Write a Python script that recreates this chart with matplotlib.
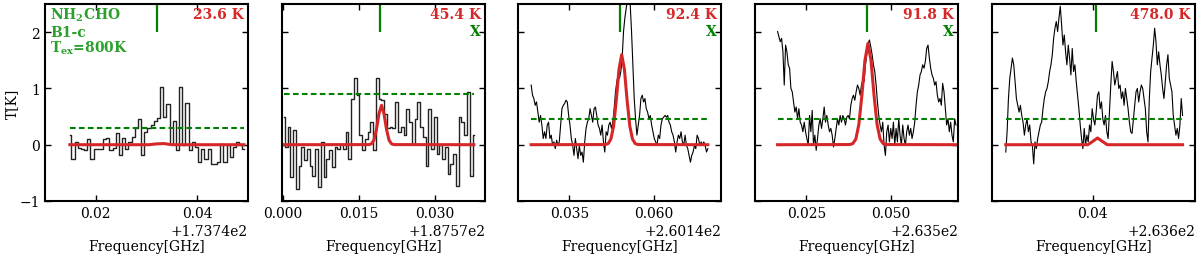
import numpy as np
import matplotlib
matplotlib.use("Agg")
import matplotlib.pyplot as plt

# NH2CHO lines towards B1-c, T_ex = 800 K
# frequency offsets [GHz] shown by the tick formatter
offsets = [173.74, 187.57, 260.14, 263.5, 263.6]
# channel range of each observed spectrum (relative to offset, GHz)
f_start = [0.0149, 0.0001, 0.0237, 0.0165, 0.0141]
f_end = [0.0492, 0.0378, 0.0760, 0.0694, 0.0667]
xlims = [(0.0100, 0.0500), (-0.0002, 0.0400), (0.0198, 0.0799), (0.0098, 0.0700), (0.0100, 0.0704)]
xticks = [[0.02, 0.04], [0.0, 0.015, 0.03], [0.035, 0.06], [0.025, 0.05], [0.04]]

eup = ["23.6 K", "45.4 K", "92.4 K", "91.8 K", "478.0 K"]
blended = [False, True, True, True, False]
line_freq = [0.0320, 0.0192, 0.0500, 0.0430, 0.0410]
rms3 = [0.30, 0.90, 0.45, 0.45, 0.45]

# observed spectra [K]
spec1 = [0.17, -0.25, 0.05, -0.05, -0.08, -0.10, 0.10, -0.25, -0.07, -0.08,
         -0.07, 0.10, 0.12, -0.10, -0.05, 0.20, -0.19, 0.12, -0.07, 0.05,
         0.14, 0.30, 0.46, -0.19, 0.23, 0.29, 0.35, 0.43, 0.48, 1.03,
         0.50, 0.73, 0.02, 0.43, -0.10, 1.03, -0.01, 0.75, -0.10, 0.05,
         -0.04, -0.31, -0.07, -0.25, -0.07, -0.34, -0.34, -0.31, 0.02, -0.31,
         -0.01, -0.22, -0.04, 0.05, -0.01, -0.08]
spec2 = [0.49, -0.04, 0.32, -0.58, 0.26, -0.79, -0.37, -0.04, -0.28, -0.07,
         -0.37, -0.55, -0.07, -0.76, 0.05, -0.58, -0.25, -0.10, -0.40, -0.04,
         -0.07, 0.02, -0.07, 0.23, -0.25, 0.82, 1.19, 0.88, 0.17, -0.10,
         0.11, 0.23, 0.40, -0.10, 1.19, 0.82, 0.79, 0.55, 0.29, 0.32,
         0.29, 0.76, 0.23, 0.32, 0.17, 0.64, 0.40, 0.02, 0.46, 0.76,
         0.32, 0.14, -0.37, 0.64, -0.07, 0.49, -0.16, -0.01, -0.25, -0.04,
         -0.52, -0.34, -0.16, -0.73, 0.49, 0.40, 0.17, 0.93, -0.55, 0.17]
spec3 = [1.06, 0.88, 0.82, 0.70, 0.76, 0.58, 0.40, 0.52, 0.35, 0.11,
         0.23, 0.11, 0.35, 0.40, 0.11, 0.17, -0.01, 0.05, -0.07, 0.08,
         -0.01, 0.05, 0.35, 0.64, 0.70, 0.73, 0.79, 0.76, 0.52, 0.35,
         0.11, -0.01, -0.19, 0.11, -0.07, -0.25, -0.01, -0.19, -0.13, -0.31,
         0.05, 0.29, 0.40, 0.46, 0.64, 0.52, 0.40, 0.64, 0.67, 0.52,
         0.35, 0.29, 0.17, 0.35, 0.05, -0.13, 0.23, 0.17, 0.35, 0.40,
         0.29, 0.40, 0.64, 0.94, 1.12, 1.24, 1.18, 1.30, 1.54, 2.01,
         2.25, 2.43, 2.60, 2.65, 2.49, 2.01, 1.42, 0.82, 0.46, 0.17,
         0.35, 0.52, 0.82, 0.88, 0.76, 0.82, 0.64, 0.58, 0.46, 0.52,
         0.35, 0.23, 0.11, 0.05, -0.01, 0.17, 0.11, 0.35, 0.46, 0.49,
         0.52, 0.49, 0.52, 0.40, 0.35, 0.23, 0.17, 0.05, -0.13, 0.05,
         0.17, 0.11, 0.23, 0.05, -0.01, 0.17, -0.01, -0.07, -0.19, -0.31,
         -0.19, -0.13, -0.01, -0.07, 0.17, 0.11, -0.01, 0.05, -0.01, 0.05,
         -0.01, -0.13, -0.07]
spec4 = [2.01, 1.92, 1.83, 1.89, 1.65, 1.06, 1.77, 1.65, 1.42, 1.36,
         1.00, 0.94, 0.76, 0.58, 0.67, 0.46, 0.64, 0.40, 0.35, 0.23,
         0.40, 0.23, 0.11, -0.01, 0.52, 0.23, 0.61, -0.01, 0.17, -0.10,
         0.11, 0.35, 0.46, 0.29, 0.46, 0.67, 0.40, 0.52, 0.35, 0.23,
         0.29, 0.17, -0.04, 0.11, 0.29, 0.46, 0.35, 0.52, 0.40, 0.52,
         0.46, 0.35, 0.49, 0.52, 0.46, 0.70, 0.82, 0.88, 0.79, 0.94,
         1.06, 1.00, 0.88, 1.06, 1.15, 1.12, 1.42, 1.60, 1.80, 1.86,
         1.74, 1.60, 1.42, 1.30, 1.06, 0.76, 0.52, 0.35, 0.23, 0.40,
         -0.01, -0.19, 0.23, 0.35, 0.05, 0.29, 0.11, 0.40, -0.01, 0.29,
         0.05, 0.46, 0.17, -0.01, 0.35, 0.11, -0.01, 0.23, 0.35, 0.17,
         0.29, 0.11, 0.23, 0.40, 0.70, 0.94, 1.06, 1.24, 1.30, 1.42,
         1.36, 1.48, 1.71, 1.77, 1.54, 1.36, 1.24, 1.18, 1.06, 1.12,
         0.88, 0.76, 0.82, 0.70, 1.09, 0.94, 0.64, 0.35, 0.46, 0.23,
         0.40, 0.17, 0.05, 0.46, 0.35]
spec5 = [-0.13, 0.23, 0.82, 1.18, 1.36, 1.54, 1.42, 1.12, 0.82, 0.70,
         0.58, 0.70, 0.52, 0.40, 0.17, 0.35, 0.46, 0.23, 0.35, 0.05,
         -0.01, -0.34, 0.05, -0.07, 0.11, 0.23, 0.35, 0.40, 0.64, 0.82,
         0.94, 1.00, 1.12, 1.30, 1.42, 1.60, 1.89, 2.07, 2.19, 2.01,
         2.25, 2.46, 2.13, 1.77, 1.95, 1.65, 1.42, 1.77, 1.54, 1.24,
         1.71, 1.30, 1.42, 1.12, 0.88, 0.64, 0.35, 0.11, -0.07, 0.29,
         -0.01, 0.17, 0.05, 0.35, 0.23, 0.64, 0.46, 0.35, 0.58, 0.88,
         0.94, 0.64, 0.76, 0.46, 0.35, 0.52, 0.23, 0.11, 0.58, 1.06,
         1.48, 1.30, 1.06, 1.18, 1.30, 1.00, 1.06, 0.82, 0.94, 0.70,
         1.00, 0.82, 0.64, 0.40, 0.23, 0.20, 0.46, 0.70, 0.94, 1.00,
         0.76, 0.94, 1.06, 1.00, 0.82, 0.64, 0.23, 0.05, 0.82, 1.30,
         1.54, 1.77, 2.07, 1.83, 1.42, 1.65, 1.42, 1.24, 1.00, 0.82,
         1.12, 1.42, 1.60, 1.18, 1.06, 0.94, 0.52, 0.35, 0.17, 0.29,
         0.11, 0.35, 0.82, 0.52]
spectra = [spec1, spec2, spec3, spec4, spec5]
stepped = [True, True, False, False, False]

# LTE model (red): frequencies and temperatures
mod1_f = [0.0149, 0.0305, 0.0320, 0.0335, 0.0350, 0.0492]
mod1_t = [0.0, 0.0, 0.015, 0.02, 0.0, 0.0]
mod2_f = [0.0001, 0.0170, 0.0175, 0.0180, 0.0185, 0.0190, 0.0195, 0.0200,
          0.0205, 0.0210, 0.0215, 0.0220, 0.0378]
mod2_t = [0.0, 0.002, 0.015, 0.08, 0.27, 0.55, 0.70, 0.55, 0.27, 0.08, 0.015, 0.002, 0.0]
mod3_f = [0.0237, 0.0457, 0.0465, 0.0473, 0.0481, 0.0489, 0.0497, 0.0505,
          0.0513, 0.0521, 0.0529, 0.0537, 0.0545, 0.0553, 0.0760]
mod3_t = [0.0, 0.003, 0.02, 0.10, 0.33, 0.79, 1.34, 1.60, 1.34, 0.79, 0.33, 0.10, 0.02, 0.003, 0.0]
mod4_f = [0.0165, 0.0379, 0.0388, 0.0397, 0.0406, 0.0415, 0.0424, 0.0433,
          0.0442, 0.0451, 0.0460, 0.0469, 0.0478, 0.0487, 0.0694]
mod4_t = [0.0, 0.003, 0.02, 0.10, 0.36, 0.88, 1.50, 1.80, 1.50, 0.88, 0.36, 0.10, 0.02, 0.003, 0.0]
mod5_f = [0.0141, 0.0385, 0.0400, 0.0414, 0.0428, 0.0443, 0.0667]
mod5_t = [0.0, 0.0, 0.06, 0.12, 0.06, 0.0, 0.0]
models = [(mod1_f, mod1_t), (mod2_f, mod2_t), (mod3_f, mod3_t), (mod4_f, mod4_t), (mod5_f, mod5_t)]

GREEN = "#008000"
LGREEN = "#2ca02c"
RED = "#d62728"

plt.rcParams["font.family"] = ["DejaVu Serif"]
plt.rcParams["mathtext.default"] = "regular"
plt.rcParams["xtick.direction"] = "in"
plt.rcParams["ytick.direction"] = "in"
plt.rcParams["xtick.top"] = True
plt.rcParams["ytick.right"] = True
plt.rcParams["font.size"] = 10

fig = plt.figure(figsize=(12, 2.55), dpi=100)
lefts = [45, 282, 518, 755, 992]
axes = []
for i in range(5):
    ax = fig.add_axes([lefts[i] / 1200, 53 / 255, 203 / 1200, 197 / 255])
    axes.append(ax)
    off = offsets[i]
    vals = spectra[i]
    freq = off + np.linspace(f_start[i], f_end[i], len(vals))
    if stepped[i]:
        ax.plot(freq, vals, color="#222222", lw=1.0, drawstyle="steps-mid")
    else:
        ax.plot(freq, vals, color="k", lw=0.8)
    mf, mt = models[i]
    ax.plot(off + np.array(mf), mt, color=RED, lw=2.2)
    ax.hlines(rms3[i], off + f_start[i], off + f_end[i], colors=GREEN,
              linestyles=(0, (2.7, 1.6)), lw=1.5)
    ax.vlines(off + line_freq[i], 2.0, 2.5, colors=GREEN, lw=1.6)

    ax.set_xlim(off + xlims[i][0], off + xlims[i][1])
    ax.set_ylim(-1, 2.5)
    ax.set_xticks([off + t for t in xticks[i]])
    ax.set_yticks([-1, 0, 1, 2])
    ax.ticklabel_format(axis="x", useOffset=off)
    ax.tick_params(length=4, width=1, labelsize=10)
    for s in ax.spines.values():
        s.set_linewidth(1.5)
    ax.set_xlabel("Frequency[GHz]", fontsize=10, labelpad=14)
    if i == 0:
        ax.set_ylabel("T[K]", fontsize=10)
        ax.yaxis.set_label_coords(-0.13, 0.5)
    else:
        ax.tick_params(labelleft=False)

    ax.text(0.98, 0.95, eup[i], transform=ax.transAxes, ha="right", va="center",
            color=RED, fontweight="bold", fontsize=10)
    if blended[i]:
        ax.text(0.98, 0.865, "X", transform=ax.transAxes, ha="right", va="center",
                color=GREEN, fontweight="bold", fontsize=10)

axes[0].text(0.025, 0.95, "NH$_2$CHO", transform=axes[0].transAxes, ha="left",
             va="center", color=LGREEN, fontweight="bold", fontsize=10)
axes[0].text(0.025, 0.86, "B1-c", transform=axes[0].transAxes, ha="left",
             va="center", color=LGREEN, fontweight="bold", fontsize=10)
axes[0].text(0.025, 0.78, "T$_{ex}$=800K", transform=axes[0].transAxes, ha="left",
             va="center", color=LGREEN, fontweight="bold", fontsize=10)

fig.savefig("out.png", dpi=100)
